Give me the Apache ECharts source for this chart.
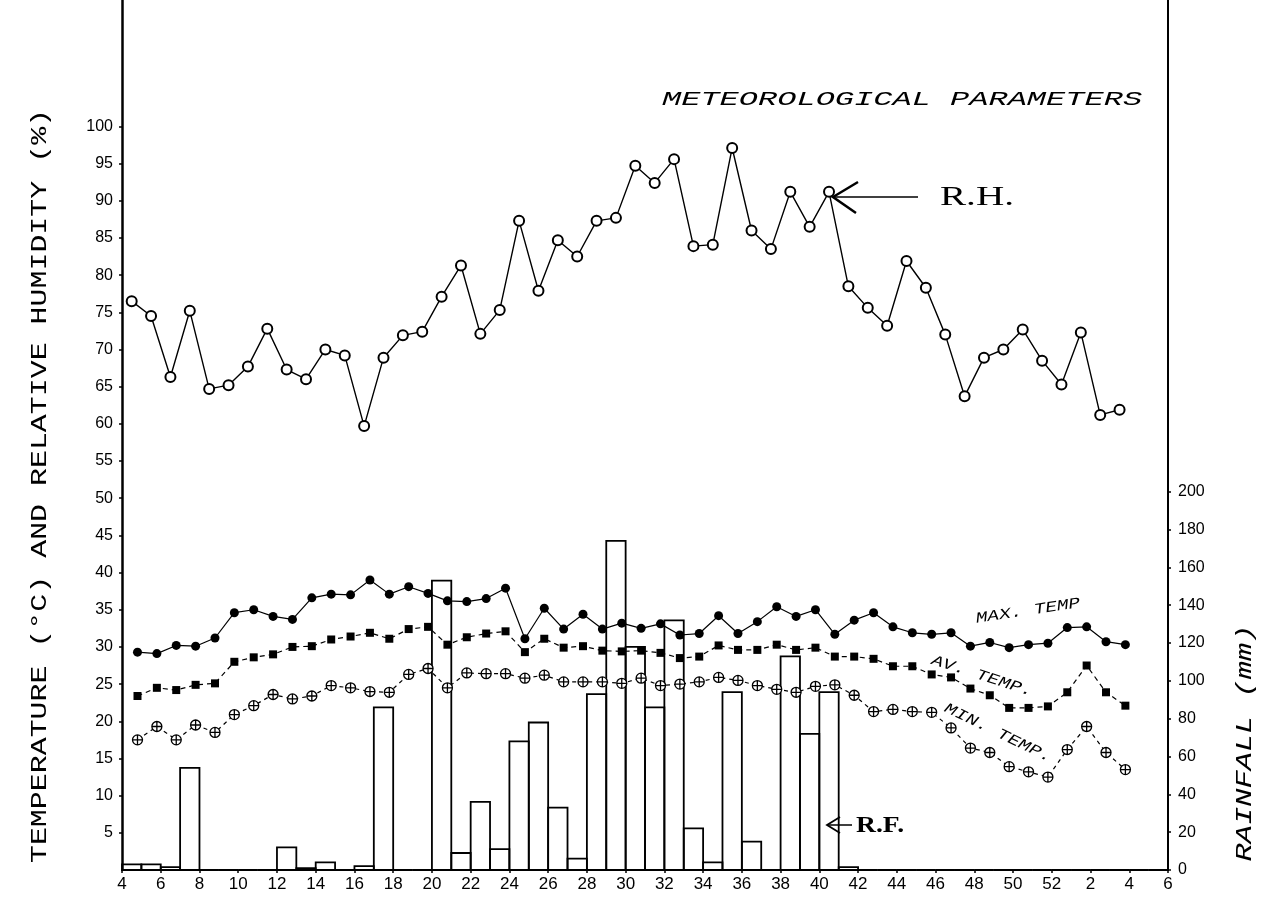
<!DOCTYPE html>
<html>
<head>
<meta charset="utf-8">
<script src="https://cdn.jsdelivr.net/npm/echarts@6/dist/echarts.min.js"></script>
<style>
  html, body { margin: 0; padding: 0; background: #fff; }
  #chart { width: 1265px; height: 897px; }
</style>
</head>
<body>
<div id="chart"></div>
<script>
// ---------------- DATA ----------------
// x-axis tick labels (standard weeks, every 2nd week, 4 .. 52, then 2 .. 6 of next year)
const xTickLabels = ['4','6','8','10','12','14','16','18','20','22','24','26','28','30','32','34','36','38','40','42','44','46','48','50','52','2','4','6'];
// weeks with observations (4..52, then 1..3 of next year)
const obsWeeks = [4,5,6,7,8,9,10,11,12,13,14,15,16,17,18,19,20,21,22,23,24,25,26,27,28,29,30,31,32,33,34,35,36,37,38,39,40,41,42,43,44,45,46,47,48,49,50,51,52,1,2,3];
// Relative humidity (%)
const relHumidity = [76.5,74.5,66.3,75.2,64.7,65.2,67.7,72.8,67.3,66.0,70.0,69.2,59.7,68.9,71.9,72.4,77.1,81.3,72.1,75.3,87.3,77.9,84.7,82.5,87.3,87.7,94.7,92.4,95.6,83.9,84.1,97.1,86.0,83.5,91.2,86.5,91.2,78.5,75.6,73.2,81.9,78.3,72.0,63.7,68.9,70.0,72.7,68.5,65.3,72.3,61.2,61.9];
// Maximum temperature (°C)
const maxTemp = [29.3,29.1,30.2,30.1,31.2,34.6,35.0,34.1,33.7,36.6,37.1,37.0,39.0,37.1,38.1,37.2,36.2,36.1,36.5,37.9,31.1,35.2,32.4,34.4,32.4,33.2,32.5,33.1,31.6,31.8,34.2,31.8,33.4,35.4,34.1,35.0,31.7,33.6,34.6,32.7,31.9,31.7,31.9,30.1,30.6,29.9,30.3,30.5,32.6,32.7,30.7,30.3];
// Average temperature (°C)
const avTemp = [23.4,24.5,24.2,24.9,25.1,28.0,28.6,29.0,30.0,30.1,31.0,31.4,31.9,31.1,32.4,32.7,30.3,31.3,31.8,32.1,29.3,31.1,29.9,30.1,29.5,29.4,29.5,29.2,28.5,28.7,30.2,29.6,29.6,30.3,29.6,29.9,28.7,28.7,28.4,27.4,27.4,26.3,25.9,24.4,23.5,21.8,21.8,22.0,23.9,27.5,23.9,22.1];
// Minimum temperature (°C)
const minTemp = [17.5,19.3,17.5,19.5,18.5,20.9,22.1,23.6,23.0,23.4,24.8,24.5,24.0,23.9,26.3,27.1,24.5,26.5,26.4,26.4,25.8,26.2,25.3,25.3,25.3,25.1,25.8,24.8,25.0,25.3,25.9,25.5,24.8,24.3,23.9,24.7,24.9,23.5,21.3,21.6,21.3,21.2,19.1,16.4,15.8,13.9,13.2,12.5,16.2,19.3,15.8,13.5];
// Weekly rainfall (mm), weeks 4..52 then 1..5 of next year
const rainfall = [3,3,1.5,54,0,0,0,0,12,1,4,0,2,86,0,0,153,9,36,11,68,78,33,6,93,174,118,86,132,22,4,94,15,0,113,72,94,1.5,0,0,0,0,0,0,0,0,0,0,0,0,0,0,0,0];
// Axis tick values
const leftTicks = [5,10,15,20,25,30,35,40,45,50,55,60,65,70,75,80,85,90,95,100];
const rightTicks = [0,20,40,60,80,100,120,140,160,180,200];

// ---------------- LAYOUT ----------------
const W = 1265, H = 897;
const grid = { left: 122, right: 97, top: 0, bottom: 27 };
const nWeeks = 54;
const rhOffset = 0.5, tOffset = 0.8;
const monoFont = '"Liberation Mono", "DejaVu Sans Mono", monospace';
const numFont = '"Liberation Sans", "DejaVu Sans", sans-serif';

const crossCircle = 'path://M0,-5A5,5,0,1,1,0,5A5,5,0,1,1,0,-5ZM-5,0L5,0M0,-5L0,5';

const chart = echarts.init(document.getElementById('chart'), null, { renderer: 'canvas' });

const option = {
  backgroundColor: '#fff',
  animation: false,
  grid: grid,
  xAxis: {
    type: 'value', min: 0, max: nWeeks, interval: 2,
    axisLine: { show: true, onZero: false, lineStyle: { color: '#000', width: 1.6 } },
    axisTick: { show: true, length: 3, lineStyle: { color: '#000', width: 1.5 } },
    axisLabel: { color: '#000', fontSize: 17, fontFamily: numFont, margin: 6,
      formatter: v => xTickLabels[Math.round(v / 2)] },
    splitLine: { show: false }
  },
  yAxis: [
    {
      type: 'value', min: 0, max: 117, position: 'left',
      axisLine: { show: true, onZero: false, lineStyle: { color: '#000', width: 2.5 } },
      axisTick: { show: true, length: 3, customValues: leftTicks, lineStyle: { color: '#000', width: 1.5 } },
      axisLabel: { color: '#000', fontSize: 16, fontFamily: numFont, margin: 9, customValues: leftTicks },
      splitLine: { show: false }
    },
    {
      type: 'value', min: 0, max: 460, position: 'right',
      axisLine: { show: true, onZero: false, lineStyle: { color: '#000', width: 2 } },
      axisTick: { show: true, length: 3, customValues: rightTicks, lineStyle: { color: '#000', width: 1.5 } },
      axisLabel: { color: '#000', fontSize: 16, fontFamily: numFont, margin: 10, customValues: rightTicks },
      splitLine: { show: false }
    }
  ],
  series: [
    {
      name: 'R.F.', type: 'custom', yAxisIndex: 1,
      data: rainfall.map((v, k) => [k, v]),
      renderItem: function (params, api) {
        const k = api.value(0), v = api.value(1);
        const p0 = api.coord([k, v]);
        const p1 = api.coord([k + 1, 0]);
        return {
          type: 'rect',
          shape: { x: p0[0], y: p0[1], width: p1[0] - p0[0], height: p1[1] - p0[1] },
          style: { fill: null, stroke: '#000', lineWidth: 1.8 }
        };
      },
      z: 1
    },
    {
      name: 'R.H.', type: 'line', yAxisIndex: 0,
      data: relHumidity.map((v, k) => [k + rhOffset, v]),
      symbol: 'emptyCircle', symbolSize: 10,
      lineStyle: { color: '#000', width: 1.4 },
      itemStyle: { color: '#000', borderColor: '#000', borderWidth: 1.5 },
      z: 3
    },
    {
      name: 'MAX. TEMP', type: 'line', yAxisIndex: 0,
      data: maxTemp.map((v, k) => [k + tOffset, v]),
      symbol: 'circle', symbolSize: 9,
      lineStyle: { color: '#000', width: 1.2 },
      itemStyle: { color: '#000' },
      z: 3
    },
    {
      name: 'AV. TEMP.', type: 'line', yAxisIndex: 0,
      data: avTemp.map((v, k) => [k + tOffset, v]),
      symbol: 'rect', symbolSize: 8,
      lineStyle: { color: '#000', width: 1.2, type: [5, 4] },
      itemStyle: { color: '#000' },
      z: 3
    },
    {
      name: 'MIN. TEMP.', type: 'line', yAxisIndex: 0,
      data: minTemp.map((v, k) => [k + tOffset, v]),
      symbol: crossCircle, symbolSize: 10,
      lineStyle: { color: '#000', width: 1.2, type: [4, 4] },
      itemStyle: { color: '#fff', borderColor: '#000', borderWidth: 1.3 },
      z: 3
    }
  ],
  graphic: [
    { type: 'text', x: 662, y: 100, scaleX: 1.6,
      style: { text: 'METEOROLOGICAL PARAMETERS', font: 'italic 20px ' + monoFont, fill: '#000', align: 'left', verticalAlign: 'middle' } },
    { type: 'text', x: 40, y: 486, rotation: Math.PI / 2, scaleX: 1.36,
      style: { text: 'TEMPERATURE (°C) AND RELATIVE HUMIDITY (%)', font: '22px ' + monoFont, fill: '#000', align: 'center', verticalAlign: 'middle' } },
    { type: 'text', x: 1245, y: 743, rotation: Math.PI / 2, scaleX: 1.38,
      style: { text: 'RAINFALL (mm)', font: 'italic 22px ' + monoFont, fill: '#000', align: 'center', verticalAlign: 'middle' } },
    { type: 'text', x: 1028, y: 611, rotation: 0.15, scaleX: 1.3,
      style: { text: 'MAX. TEMP', font: 'italic 15px ' + monoFont, fill: '#000', align: 'center', verticalAlign: 'middle' } },
    { type: 'text', x: 982, y: 676, rotation: -0.31, scaleX: 1.3,
      style: { text: 'AV. TEMP.', font: 'italic 15px ' + monoFont, fill: '#000', align: 'center', verticalAlign: 'middle' } },
    { type: 'text', x: 998, y: 733, rotation: -0.45, scaleX: 1.3,
      style: { text: 'MIN. TEMP.', font: 'italic 15px ' + monoFont, fill: '#000', align: 'center', verticalAlign: 'middle' } },
    { type: 'text', x: 940, y: 198, scaleX: 1.45,
      style: { text: 'R.H.', font: '27px "Liberation Serif", serif', fill: '#000', align: 'left', verticalAlign: 'middle' } },
    { type: 'line', shape: { x1: 833, y1: 197, x2: 918, y2: 197 }, style: { stroke: '#000', lineWidth: 1.5 } },
    { type: 'polyline', shape: { points: [[858, 182], [833, 197], [856, 213]] }, style: { stroke: '#000', lineWidth: 2.5, fill: null } },
    { type: 'text', x: 856, y: 826, scaleX: 1.15,
      style: { text: 'R.F.', font: 'bold 24px "Liberation Serif", serif', fill: '#000', align: 'left', verticalAlign: 'middle' } },
    { type: 'line', shape: { x1: 827, y1: 825, x2: 852, y2: 825 }, style: { stroke: '#000', lineWidth: 1.5 } },
    { type: 'polyline', shape: { points: [[840, 817], [827, 825], [840, 833]] }, style: { stroke: '#000', lineWidth: 1.8, fill: null } }
  ]
};
chart.setOption(option);
</script>
</body>
</html>
